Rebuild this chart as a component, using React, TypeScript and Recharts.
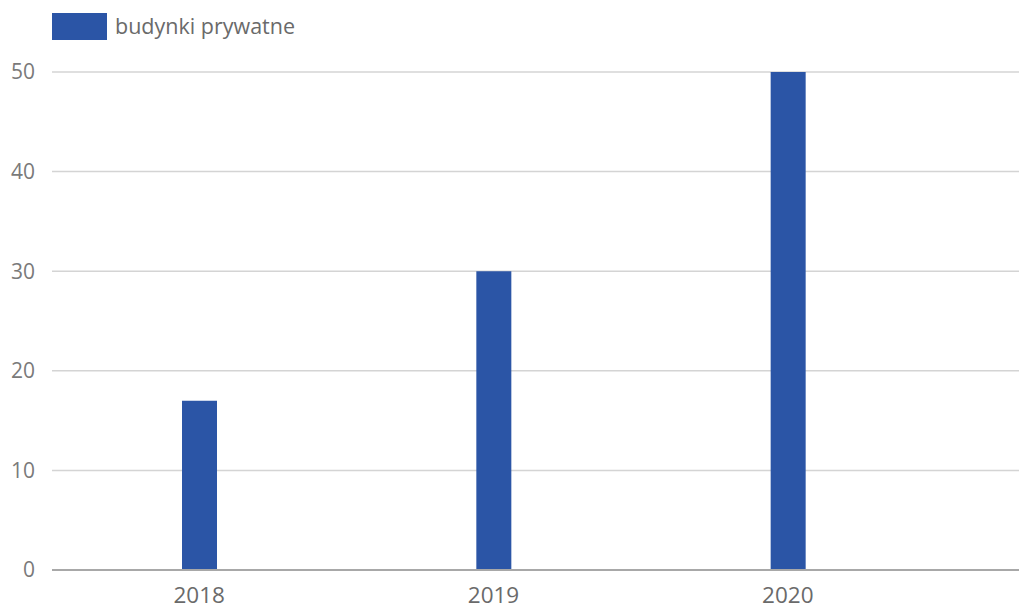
import React from "react";
import { BarChart, Bar, XAxis, YAxis, CartesianGrid, Legend } from "recharts";

const years = ["2018", "2019", "2020"];
const budynkiPrywatne = [17, 30, 50];
const yTicks = [0, 10, 20, 30, 40, 50];
const seriesName = "budynki prywatne";

const data = years.map((y, i) => ({ year: y, value: budynkiPrywatne[i] }));

const FONT = "'Open Sans', 'Noto Sans', sans-serif";
const BLUE = "#2b55a6";

const LegendContent = () => (
  <div style={{ display: "flex", alignItems: "center", fontFamily: FONT, height: 27 }}>
    <div style={{ width: 55, height: 27, background: BLUE, marginRight: 8 }} />
    <span style={{ fontSize: 21.5, color: "#6a6a6a", lineHeight: "27px", position: "relative", top: -1 }}>{seriesName}</span>
  </div>
);

export default function App() {
  return (
    <div style={{ position: "absolute", left: 0, top: 0, width: 1019, height: 612, background: "#fff" }}>
      <BarChart
        width={1019}
        height={612}
        data={data}
        margin={{ top: 46, right: 0, bottom: 0, left: 0 }}
      >
        <Legend
          verticalAlign="top"
          align="left"
          content={<LegendContent />}
          wrapperStyle={{ position: "absolute", left: 52, top: 13, width: 400, height: 26 }}
        />
        <CartesianGrid vertical={false} stroke="#d4d4d4" strokeWidth={1.5} />
        <XAxis
          dataKey="year"
          axisLine={{ stroke: "#a8a8a8", strokeWidth: 2 }}
          tickLine={false}
          padding={{ left: 0, right: 84 }}
          tick={{ fill: "#6a6a6a", fontSize: 22.5, fontFamily: FONT, dy: 9 }}
          height={42}
        />
        <YAxis
          domain={[0, 50]}
          ticks={yTicks}
          axisLine={false}
          tickLine={false}
          width={52}
          tick={{ fill: "#7a7a7a", fontSize: 21, fontFamily: FONT, dx: -9 }}
        />
        <Bar dataKey="value" name={seriesName} fill={BLUE} barSize={35} isAnimationActive={false} />
      </BarChart>
    </div>
  );
}
